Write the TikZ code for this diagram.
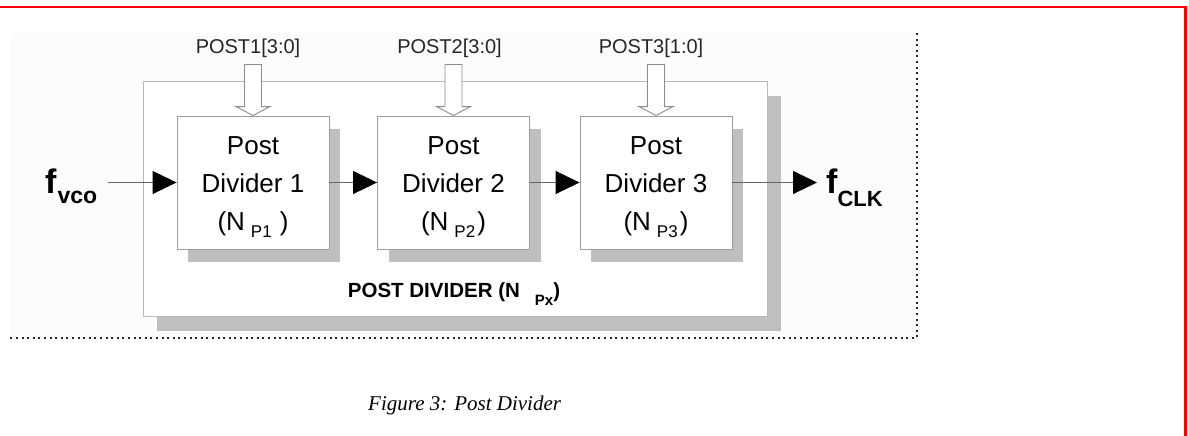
\documentclass[tikz,border=0pt]{standalone}
\usepackage{fontspec}
\setmainfont{Liberation Sans}
\newfontfamily\capfont{Liberation Serif}
\usetikzlibrary{arrows.meta,calc}
\newcommand\setpx[2]{\fontsize{#1}{#2}\selectfont}
\begin{document}
\begin{tikzpicture}[x=1pt,y=-1pt,
  divbox/.style={draw=black!38, fill=white, line width=0.9pt, minimum width=152pt, minimum height=133pt, inner sep=0pt},
  outerbox/.style={draw=black!28, fill=white, line width=0.9pt, minimum width=624pt, minimum height=235pt, inner sep=0pt},
  shadowc/.style={draw=none, fill=black!25},
  conn/.style={draw=black!60, line width=0.9pt, -{Triangle[length=24pt,width=23pt,color=black,fill=black]}},
  hollow/.style={draw=black!45, fill=white, line width=0.9pt},
  txt/.style={inner sep=0pt, font=\setpx{26}{38}, align=center},
  sel/.style={inner sep=0pt, font=\setpx{20}{22}, anchor=base, text=black!85},
  dots/.style={draw=black!85, line width=2pt, dash pattern=on 2pt off 3.6pt}
]
\useasboundingbox (0,0) rectangle (1189,436);
% page frame
\fill[black!1.2] (10,33) rectangle (917,338);
\draw[red, line width=2.5pt] (0,7) -- (1185.5,7) -- (1185.5,436);
\draw[dots] (917,33) -- (917,338) -- (10,338);
% outer box
\node[outerbox, shadowc] (outsh) at (469,213.5) {};
\node[outerbox] (outer) at (455,198.5) {};
% dividers
\node[divbox, shadowc] (s1) at (264,195.5) {};
\node[divbox, shadowc] (s2) at (464.5,195.5) {};
\node[divbox, shadowc] (s3) at (667,195.5) {};
\node[divbox] (b1) at (253,182.5) {};
\node[divbox] (b2) at (453.5,182.5) {};
\node[divbox] (b3) at (656,182.5) {};
\node[txt] (t1) at ($(b1.center)+(0,4.5)$) {Post\\Divider 1\\(N\hspace{6pt}\raisebox{-7pt}{\setpx{17}{17}P1}\hspace{8pt})};
\node[txt] (t2) at ($(b2.center)+(0,4.5)$) {Post\\Divider 2\\(N\hspace{6pt}\raisebox{-7pt}{\setpx{17}{17}P2}\hspace{2pt})};
\node[txt] (t3) at ($(b3.center)+(0,4.5)$) {Post\\Divider 3\\(N\hspace{6pt}\raisebox{-7pt}{\setpx{17}{17}P3}\hspace{2pt})};
% select inputs
\node[sel] (p1) at (248,54) {POST1[3:0]};
\node[sel] (p2) at (449.5,54) {POST2[3:0]};
\node[sel] (p3) at (651,54) {POST3[1:0]};
\foreach \b in {b1,b2,b3}{
  \draw[hollow] ([shift={(-8.5,-51)}]\b.north) -- ++(17,0) -- ++(0,42) -- ++(8.5,0) -- (\b.north) -- ++(-17,-9) -- ++(8.5,0) -- cycle;
}
% signals
\node[inner sep=0pt, anchor=base west] (fvco) at (45,193) {\setpx{34}{34}\bfseries f\hspace{1pt}\raisebox{-10pt}{\setpx{23}{23}\bfseries vco}};
\node[inner sep=0pt, anchor=base west] (fclk) at (826,193) {\setpx{34}{34}\bfseries f\raisebox{-13pt}{\setpx{22}{22}\bfseries CLK}};
\draw[conn] ($(fvco.east |- b1.west)+(11,0)$) -- (b1.west);
\draw[conn] (b1.east) -- (b2.west);
\draw[conn] (b2.east) -- (b3.west);
\draw[conn] (b3.east) -- ($(b3.east -| fclk.west)+(-9,0)$);
% labels
\node[inner sep=0pt, anchor=base] (lbl) at (454,297) {\setpx{20.5}{22}\bfseries POST DIVIDER (N\hspace{15pt}\raisebox{-8pt}{\setpx{15}{15}\bfseries Px})};
\node[inner sep=0pt, anchor=base west] (cap) at (368,410) {\capfont\itshape\setpx{21}{24}Figure 3: Post Divider};
\end{tikzpicture}
\end{document}
